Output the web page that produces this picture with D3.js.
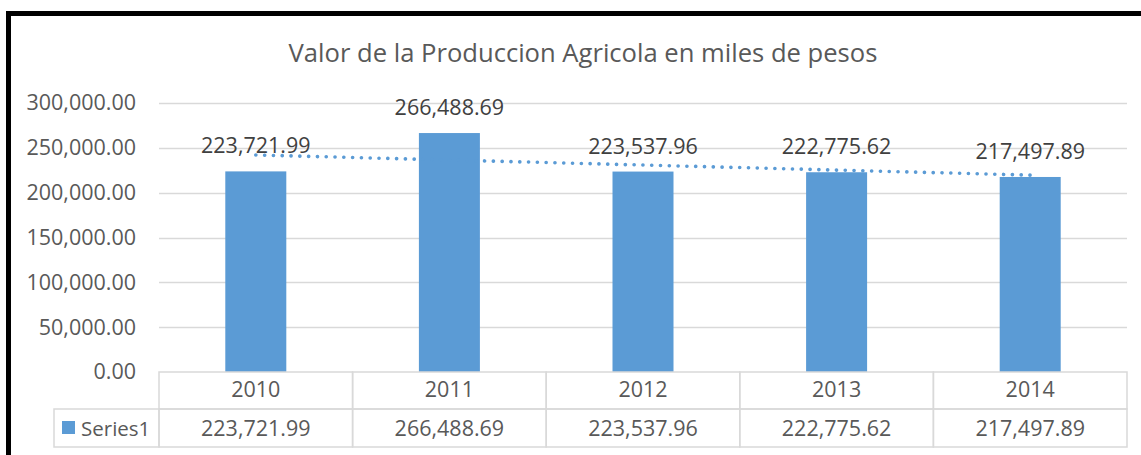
<!DOCTYPE html>
<html lang="es">
<head>
<meta charset="utf-8">
<title>Valor de la Produccion Agricola</title>
<script src="https://cdn.jsdelivr.net/npm/d3@7"></script>
<style>
  body { margin: 0; background: white; }
  svg { display: block; font-family: "Open Sans", sans-serif; }
  .grid line { stroke: #d9d9d9; stroke-width: 1.3; }
  .cell { fill: none; stroke: #d9d9d9; stroke-width: 1.5; }
</style>
</head>
<body>
<script>
// chart data
var years = ["2010", "2011", "2012", "2013", "2014"];
var values = [223721.99, 266488.69, 223537.96, 222775.62, 217497.89];
var yTicks = [0, 50000, 100000, 150000, 200000, 250000, 300000];
var seriesName = "Series1";
var title = "Valor de la Produccion Agricola en miles de pesos";

var W = 1141, H = 455;
var blue = "#5b9bd5", textCol = "#595959";
var fmt = d3.format(",.2f");

var svg = d3.select("body").append("svg")
  .attr("width", W)
  .attr("height", H);

svg.append("rect").attr("width", W).attr("height", H).attr("fill", "white");

// black frame, clipped on the right and bottom
svg.append("rect")
  .attr("x", 8.5).attr("y", 13.5)
  .attr("width", W + 20).attr("height", H + 20)
  .attr("fill", "none").attr("stroke", "black").attr("stroke-width", 5);

svg.append("text")
  .attr("x", 583).attr("y", 62)
  .attr("text-anchor", "middle")
  .attr("fill", textCol)
  .style("font-size", "25.6px")
  .text(title);

var x = d3.scaleBand().domain(years).range([159, 1127]).padding(0);
var y = d3.scaleLinear().domain([0, 300000]).range([372, 103]);
var barW = 61;

// gridlines
svg.append("g").attr("class", "grid")
  .selectAll("line").data(yTicks.slice(1)).enter().append("line")
  .attr("x1", 159).attr("x2", 1127)
  .attr("y1", function(d) { return Math.round(y(d)) + 0.5; })
  .attr("y2", function(d) { return Math.round(y(d)) + 0.5; });

// y axis labels
var yAxis = d3.axisLeft(y).tickValues(yTicks).tickFormat(fmt).tickSize(0).tickPadding(0);
var ya = svg.append("g").attr("transform", "translate(136,0)").call(yAxis);
ya.select(".domain").remove();
ya.selectAll("text")
  .attr("fill", textCol)
  .style("font-size", "21.5px")
  .style("font-family", "'Open Sans', sans-serif");

// bars
svg.selectAll("rect.bar").data(values).enter().append("rect")
  .attr("class", "bar")
  .attr("x", function(d, i) { return x(years[i]) + x.bandwidth() / 2 - barW / 2; })
  .attr("y", function(d) { return y(d); })
  .attr("width", barW)
  .attr("height", function(d) { return y(0) - y(d); })
  .attr("fill", blue);

// linear trendline
var xs = values.map(function(d, i) { return i + 1; });
var mx = d3.mean(xs), my = d3.mean(values);
var slope = d3.sum(xs, function(v, i) { return (v - mx) * (values[i] - my); }) /
            d3.sum(xs, function(v) { return (v - mx) * (v - mx); });
var icpt = my - slope * mx;
var trend = d3.line()
  .x(function(d, i) { return x(years[i]) + x.bandwidth() / 2; })
  .y(function(d, i) { return y(icpt + slope * (i + 1)); });
svg.append("path")
  .datum(values)
  .attr("d", trend)
  .attr("fill", "none")
  .attr("stroke", blue)
  .attr("stroke-width", 3.6)
  .attr("stroke-linecap", "round")
  .attr("stroke-dasharray", "0.1 8.7");

// data labels
svg.selectAll("text.lbl").data(values).enter().append("text")
  .attr("class", "lbl")
  .attr("x", function(d, i) { return x(years[i]) + x.bandwidth() / 2; })
  .attr("y", function(d) { return y(d) - 18; })
  .attr("text-anchor", "middle")
  .attr("fill", "#404040")
  .style("font-size", "21.5px")
  .text(function(d) { return fmt(d); });

// data table
var r0 = 372, r1 = 409, r2 = 447;
var tbl = svg.append("g");
tbl.selectAll("rect.hdr").data(years).enter().append("rect")
  .attr("class", "cell")
  .attr("x", function(d) { return x(d); }).attr("y", r0)
  .attr("width", x.bandwidth()).attr("height", r1 - r0);
tbl.selectAll("rect.val").data(years).enter().append("rect")
  .attr("class", "cell")
  .attr("x", function(d) { return x(d); }).attr("y", r1)
  .attr("width", x.bandwidth()).attr("height", r2 - r1);
tbl.append("rect").attr("class", "cell")
  .attr("x", 54).attr("y", r1).attr("width", 159 - 54).attr("height", r2 - r1);

tbl.selectAll("text.yr").data(years).enter().append("text")
  .attr("x", function(d) { return x(d) + x.bandwidth() / 2; })
  .attr("y", 397)
  .attr("text-anchor", "middle")
  .attr("fill", textCol)
  .style("font-size", "21.5px")
  .text(function(d) { return d; });
tbl.selectAll("text.vl").data(values).enter().append("text")
  .attr("x", function(d, i) { return x(years[i]) + x.bandwidth() / 2; })
  .attr("y", 436)
  .attr("text-anchor", "middle")
  .attr("fill", textCol)
  .style("font-size", "21.5px")
  .text(function(d) { return fmt(d); });

tbl.append("rect").attr("x", 62).attr("y", 421).attr("width", 13).attr("height", 13).attr("fill", blue);
tbl.append("text").attr("x", 81).attr("y", 436)
  .attr("fill", textCol).style("font-size", "20.5px").text(seriesName);
</script>
</body>
</html>
